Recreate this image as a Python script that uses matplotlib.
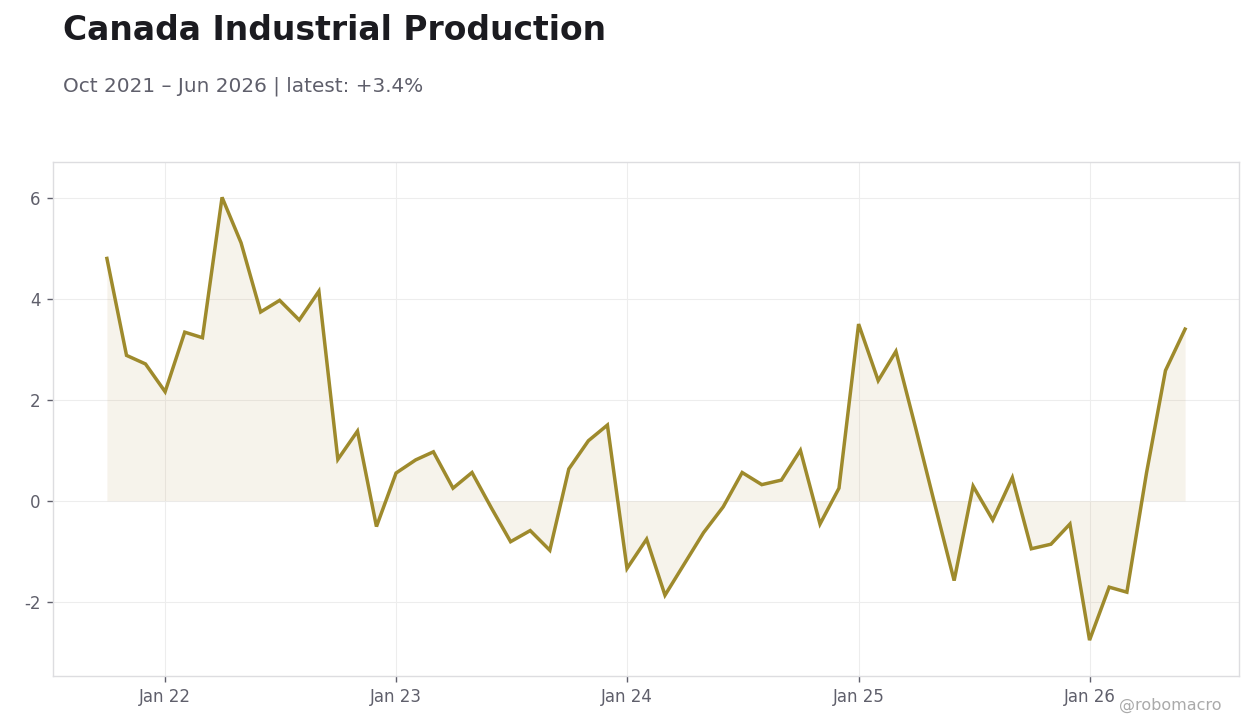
import matplotlib
matplotlib.use("Agg")
import matplotlib.pyplot as plt
import matplotlib.dates as mdates
import pandas as pd
import numpy as np

dates = pd.date_range("2021-10-01", "2026-06-01", freq="MS")
values = [
    4.80, 2.88, 2.71, 2.16,            # Oct21-Jan22
    3.34, 3.23, 6.01, 5.11, 3.74, 3.97, 3.58, 4.15, 0.82, 1.38, -0.51,  # Feb22-Dec22
    0.55, 0.81, 0.97, 0.25, 0.56, -0.15, -0.81, -0.59, -0.98, 0.63, 1.19, 1.50,  # 2023
    -1.34, -0.76, -1.87, -1.24, -0.63, -0.12, 0.56, 0.32, 0.41, 1.00, -0.46, 0.25,  # 2024
    3.50, 2.38, 2.96, 1.45, -0.05, -1.58, 0.29, -0.38, 0.46, -0.95, -0.86, -0.46,  # 2025
    -2.76, -1.71, -1.81, 0.55, 2.58, 3.40,  # 2026
]
tick_dates = pd.to_datetime(["2022-01-01", "2023-01-01", "2024-01-01", "2025-01-01", "2026-01-01"])
tick_labels = ["Jan 22", "Jan 23", "Jan 24", "Jan 25", "Jan 26"]
yticks = [-2, 0, 2, 4, 6]

title = "Canada Industrial Production"
subtitle = "Oct 2021 – Jun 2026 | latest: +3.4%"
watermark = "@robomacro"

line_color = "#9E8A2C"
fill_color = "#C9B07A"
grid_color = "#EDEDED"
text_gray = "#5F5F6B"

fig = plt.figure(figsize=(12.6, 7.28), dpi=100)
ax = fig.add_axes([53/1260, 1-676/728, (1239-53)/1260, (676-162)/728])

x = mdates.date2num(dates)
y = np.array(values)
ax.fill_between(x, y, 0, color=fill_color, alpha=0.15, linewidth=0)
ax.plot(x, y, color=line_color, linewidth=2.5, solid_joinstyle="miter")

span = x[-1] - x[0]
ax.set_xlim(x[0] - 0.05*span, x[-1] + 0.05*span)
ax.set_ylim(-3.47, 6.71)
ax.set_xticks(mdates.date2num(tick_dates))
ax.set_xticklabels(tick_labels)
ax.set_yticks(yticks)
ax.set_yticklabels([str(v) for v in yticks])

ax.grid(True, color=grid_color, linewidth=0.8)
ax.set_axisbelow(True)
for s in ax.spines.values():
    s.set_color("#DDDDE0")
    s.set_linewidth(1.0)
ax.tick_params(axis="both", colors="#5F5F6B", labelcolor=text_gray, labelsize=12,
               length=4, width=1, pad=5)

fig.text(63/1260, 1-30/728, title, fontsize=23.8, fontweight="bold", color="#1B1B20",
         ha="left", va="center")
fig.text(63/1260, 1-86/728, subtitle, fontsize=14.4, color=text_gray, ha="left", va="center")
fig.text(1222/1260, 1-705/728, watermark, fontsize=11.5, color="#AAAAAA", ha="right", va="center")

fig.savefig("out.png", dpi=100)
